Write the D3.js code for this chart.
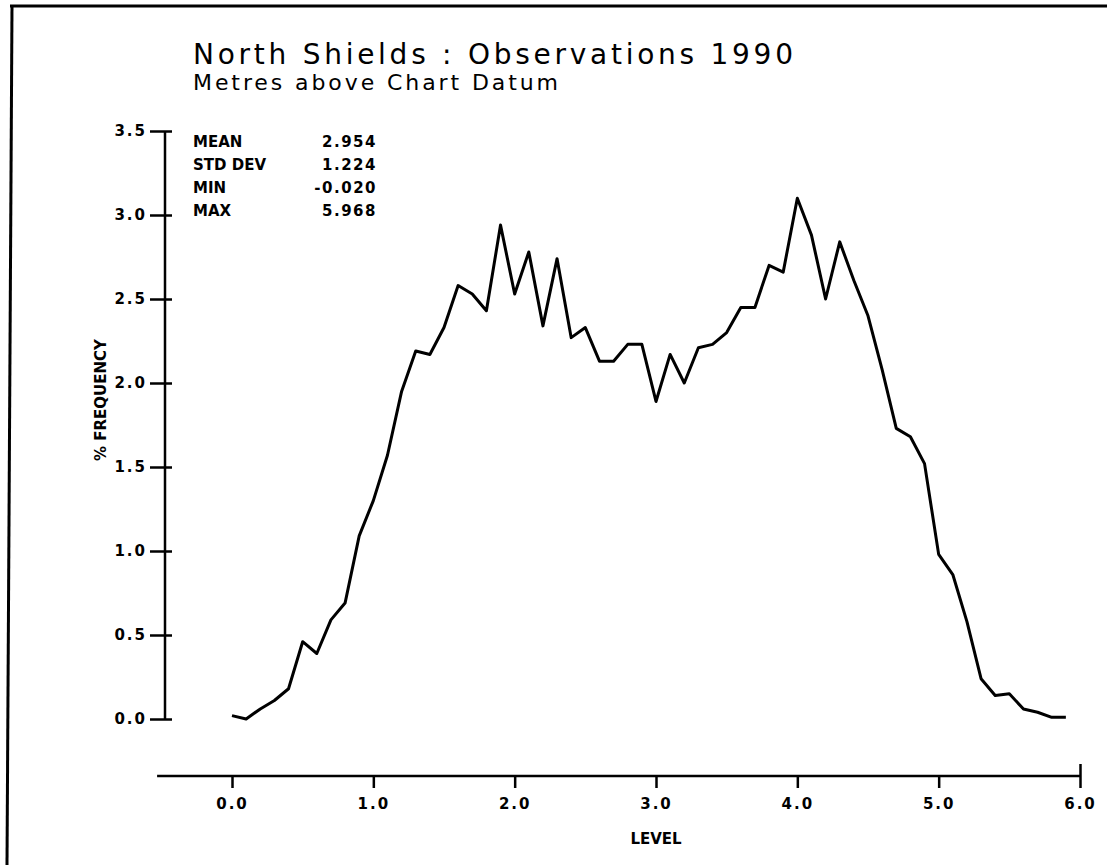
<!DOCTYPE html>
<html>
<head>
<meta charset="utf-8">
<script src="https://d3js.org/d3.v7.min.js"></script>
<style>
	body { margin: 0; background: #fff; }
	svg { display: block; }
	.tick text { font-family: "DejaVu Sans", sans-serif; font-weight: bold; }
</style>
</head>
<body>
<div id="figure"></div>
<script>
var w = 1107;
var h = 865;

// % frequency at each 0.1 m level step
var levels = [0.0, 0.1, 0.2, 0.3, 0.4, 0.5, 0.6, 0.7, 0.8, 0.9,
	1.0, 1.1, 1.2, 1.3, 1.4, 1.5, 1.6, 1.7, 1.8, 1.9,
	2.0, 2.1, 2.2, 2.3, 2.4, 2.5, 2.6, 2.7, 2.8, 2.9,
	3.0, 3.1, 3.2, 3.3, 3.4, 3.5, 3.6, 3.7, 3.8, 3.9,
	4.0, 4.1, 4.2, 4.3, 4.4, 4.5, 4.6, 4.7, 4.8, 4.9,
	5.0, 5.1, 5.2, 5.3, 5.4, 5.5, 5.6, 5.7, 5.8, 5.9];
var frequency = [0.02, 0.00, 0.06, 0.11, 0.18, 0.46, 0.39, 0.59, 0.69, 1.09,
	1.30, 1.57, 1.95, 2.19, 2.17, 2.33, 2.58, 2.53, 2.43, 2.94,
	2.53, 2.78, 2.34, 2.74, 2.27, 2.33, 2.13, 2.13, 2.23, 2.23,
	1.89, 2.17, 2.00, 2.21, 2.23, 2.30, 2.45, 2.45, 2.70, 2.66,
	3.10, 2.88, 2.50, 2.84, 2.61, 2.40, 2.08, 1.73, 1.68, 1.52,
	0.98, 0.86, 0.58, 0.24, 0.14, 0.15, 0.06, 0.04, 0.01, 0.01];

var xTicks = [0, 1, 2, 3, 4, 5, 6];
var yTicks = [0, 0.5, 1, 1.5, 2, 2.5, 3, 3.5];

var statNames = ["MEAN", "STD DEV", "MIN", "MAX"];
var statValues = ["2.954", "1.224", "-0.020", "5.968"];

var svg = d3.select('#figure')
	.append('svg')
	.attr('width', w)
	.attr('height', h);

// scanned page frame (top and left edge only)
svg.append('line')
	.attr('x1', 10).attr('y1', 6).attr('x2', w).attr('y2', 6)
	.attr('stroke', '#000').attr('stroke-width', 3);
svg.append('line')
	.attr('x1', 12).attr('y1', 6).attr('x2', 7).attr('y2', h)
	.attr('stroke', '#000').attr('stroke-width', 3);

var xScale = d3.scaleLinear()
	.domain([0, 6])
	.range([232, 1080]);

var yScale = d3.scaleLinear()
	.domain([0, 3.5])
	.range([719, 131]);

var yAxisX = 165;
var xAxisY = 776;

// Y axis
var yAxis = svg.append('g')
	.attr('transform', 'translate(' + yAxisX + ',0)')
	.call(d3.axisLeft(yScale)
		.tickValues(yTicks)
		.tickSize(15)
		.tickPadding(3)
		.tickFormat(d3.format('.1f')));
yAxis.select('.domain').remove();
yAxis.append('line')
	.attr('x1', 0).attr('x2', 0)
	.attr('y1', yScale(3.5)).attr('y2', yScale(0))
	.attr('stroke', '#000').attr('stroke-width', 2.5);
yAxis.selectAll('.tick line')
	.attr('x2', -15).attr('x1', 7)
	.attr('stroke-width', 2.5);
yAxis.selectAll('.tick text')
	.attr('font-size', 15)
	.attr('letter-spacing', 2)
	.attr('fill', '#000');

// X axis
var xAxis = svg.append('g')
	.attr('transform', 'translate(0,' + xAxisY + ')')
	.call(d3.axisBottom(xScale)
		.tickValues(xTicks)
		.tickSize(12)
		.tickPadding(10)
		.tickFormat(d3.format('.1f')));
xAxis.select('.domain').remove();
xAxis.append('line')
	.attr('x1', xScale(-0.53)).attr('x2', xScale(6))
	.attr('y1', 0).attr('y2', 0)
	.attr('stroke', '#000').attr('stroke-width', 2.5);
xAxis.selectAll('.tick line')
	.attr('stroke-width', 2.5)
	.attr('y1', function(d){ return d === 6 ? -12 : 0; });
xAxis.selectAll('.tick text')
	.attr('font-size', 15)
	.attr('letter-spacing', 2)
	.attr('fill', '#000');

// axis titles
svg.append('text')
	.attr('x', xScale(3))
	.attr('y', 844)
	.attr('text-anchor', 'middle')
	.attr('font-family', '"DejaVu Sans", sans-serif')
	.attr('font-weight', 'bold')
	.attr('font-size', 15)
	.text('LEVEL');

svg.append('text')
	.attr('transform', 'translate(106,400) rotate(-90)')
	.attr('text-anchor', 'middle')
	.attr('font-family', '"DejaVu Sans", sans-serif')
	.attr('font-weight', 'bold')
	.attr('font-size', 15)
	.text('% FREQUENCY');

// titles
svg.append('text')
	.attr('x', 193)
	.attr('y', 64)
	.attr('font-family', '"DejaVu Sans", sans-serif')
	.attr('font-size', 28)
	.attr('textLength', 600)
	.attr('lengthAdjust', 'spacing')
	.text('North Shields : Observations 1990');

svg.append('text')
	.attr('x', 193)
	.attr('y', 90)
	.attr('font-family', '"DejaVu Sans", sans-serif')
	.attr('font-size', 22)
	.attr('textLength', 365)
	.attr('lengthAdjust', 'spacing')
	.text('Metres above Chart Datum');

// summary statistics
var stats = svg.append('g')
	.attr('font-family', '"DejaVu Sans", sans-serif')
	.attr('font-weight', 'bold')
	.attr('font-size', 15);

stats.selectAll('text.name')
	.data(statNames)
	.enter()
	.append('text')
	.attr('class', 'name')
	.attr('x', 193)
	.attr('y', function(d, i){ return 147 + i * 23; })
	.text(function(d){ return d; });

stats.selectAll('text.value')
	.data(statValues)
	.enter()
	.append('text')
	.attr('class', 'value')
	.attr('x', 377)
	.attr('y', function(d, i){ return 147 + i * 23; })
	.attr('text-anchor', 'end')
	.attr('letter-spacing', 1.5)
	.text(function(d){ return d; });

// frequency curve
var line = d3.line()
	.x(function(d, i){ return xScale(levels[i]); })
	.y(function(d){ return yScale(d); });

svg.append('path')
	.datum(frequency)
	.attr('d', line)
	.attr('fill', 'none')
	.attr('stroke', '#000')
	.attr('stroke-width', 3)
	.attr('stroke-linejoin', 'round');
</script>
</body>
</html>
